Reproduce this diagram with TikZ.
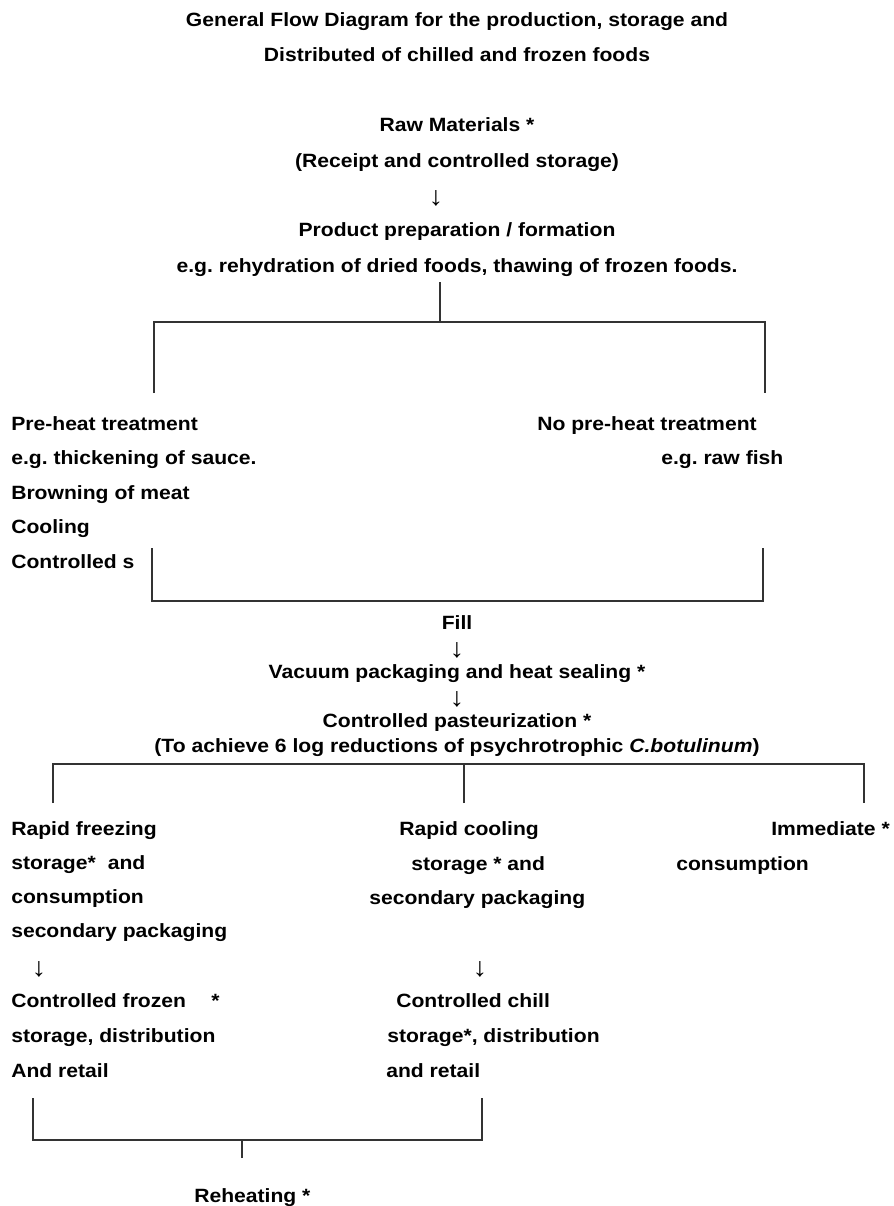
\documentclass[tikz,border=0pt]{standalone}
\usepackage{fontspec}
\setmainfont[FakeStretch=1.1]{Liberation Sans}
\usepackage{tikz}
\frenchspacing

\tikzset{
  txt/.style={inner sep=0pt, font=\fontsize{14.4}{17}\selectfont\bfseries},
  lft/.style={txt, anchor=base west},
  ctr/.style={txt, anchor=base},
  dnarrow/.style={inner sep=0pt, font=\fontsize{20}{24}\selectfont},
  brk/.style={line width=1.1pt, black!80}
}

\begin{document}
\begin{tikzpicture}[x=0.75pt, y=-0.75pt]
    \useasboundingbox (0,0) rectangle (893,1206);

    % Title
    \node (title1) at (457,27) [ctr] {General Flow Diagram for the production, storage and};
    \node (title2) at (457,62) [ctr] {Distributed of chilled and frozen foods};

    % Raw materials and preparation
    \node (raw) at (457,131) [ctr] {Raw Materials *};
    \node (rawsub) at (457,167) [ctr] {(Receipt and controlled storage)};
    \node (arr1) at (436,198) [dnarrow] {↓};
    \node (prep) at (457,236) [ctr] {Product preparation / formation};
    \node (prepeg) at (457,272) [ctr] {e.g. rehydration of dried foods, thawing of frozen foods.};

    % First split
    \coordinate (b1s) at (440,282);
    \coordinate (b1c) at (440,322);
    \coordinate (b1l) at (154,393);
    \coordinate (b1r) at (765,393);
    \draw[brk] (b1s) -- (b1c);
    \draw[brk] (b1l) |- (b1c) -| (b1r);

    % Pre-heat branch
    \foreach \t [count=\i] in {Pre-heat treatment, e.g. thickening of sauce., Browning of meat, Cooling, Controlled s}
        \node (pre\i) at (11,{430+34.5*(\i-1)}) [lft] {\t};

    % No pre-heat branch
    \node (nopre) at (537,430) [lft] {No pre-heat treatment};
    \node (nopreeg) at (661,464) [lft] {e.g. raw fish};

    % Join
    \coordinate (b2l) at (152,548);
    \coordinate (b2r) at (763,548);
    \draw[brk] (b2l) |- (b2r |- 0,601) -- (b2r);

    % Fill, packaging, pasteurization
    \node (fill) at (457,629) [ctr] {Fill};
    \node (arr2) at (457,650) [dnarrow] {↓};
    \node (vac) at (457,678) [ctr] {Vacuum packaging and heat sealing *};
    \node (arr3) at (457,699) [dnarrow] {↓};
    \node (past) at (457,727) [ctr] {Controlled pasteurization *};
    \node (pastnote) at (457,752) [ctr] {(To achieve 6 log reductions of psychrotrophic \textit{C.botulinum})};

    % Three-way split
    \coordinate (b3l) at (53,803);
    \coordinate (b3m) at (464,803);
    \coordinate (b3r) at (864,803);
    \draw[brk] (b3l) |- (b3r |- 0,764) -- (b3r);
    \draw[brk] (b3m) -- (b3m |- 0,764);

    % Frozen route
    \foreach \t [count=\i] in {Rapid freezing, storage*\hspace{9pt}and, consumption, secondary packaging}
        \node (frz\i) at (11,{835+34.3*(\i-1)}) [lft] {\t};
    \node (arr4) at (39,969) [dnarrow] {↓};
    \foreach \t [count=\i] in {Controlled frozen\hspace{19pt}*, {storage, distribution}, And retail}
        \node (frzc\i) at (11,{1007+35*(\i-1)}) [lft] {\t};

    % Chilled route
    \node (coo1) at (399,835) [lft] {Rapid cooling};
    \node (coo2) at (411,870) [lft] {storage * and};
    \node (coo3) at (369,904) [lft] {secondary packaging};
    \node (arr5) at (480,969) [dnarrow] {↓};
    \node (chl1) at (396,1007) [lft] {Controlled chill};
    \node (chl2) at (387,1042) [lft] {storage*, distribution};
    \node (chl3) at (386,1077) [lft] {and retail};

    % Immediate consumption
    \node (imm1) at (771,835) [lft] {Immediate *};
    \node (imm2) at (676,870) [lft] {consumption};

    % Reheating
    \coordinate (b4l) at (33,1098);
    \coordinate (b4r) at (482,1098);
    \coordinate (b4s) at (242,1158);
    \draw[brk] (b4l) |- (b4r |- 0,1140) -- (b4r);
    \draw[brk] (b4s) -- (b4s |- 0,1140);
    \node (reheat) at (194,1202) [lft] {Reheating *};
\end{tikzpicture}
\end{document}
